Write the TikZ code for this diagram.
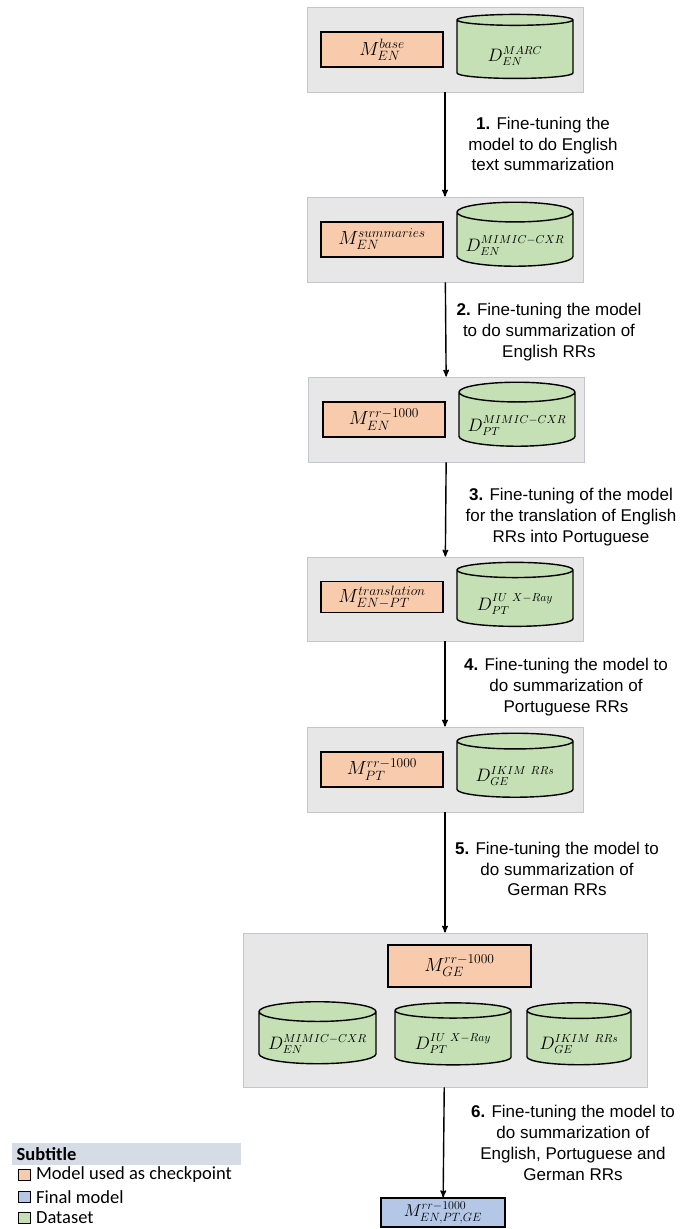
\RequirePackage{fix-cm}
\documentclass[tikz,border=0pt]{standalone}
\usepackage{amsmath}
\usepackage[no-math]{fontspec}
\setmainfont{Liberation Sans}
\newfontfamily\legendfont{Carlito}
\usetikzlibrary{backgrounds,arrows,positioning,shapes.geometric}
\definecolor{xgray}{RGB}{231,231,231}
\definecolor{xedge}{RGB}{196,198,206}
\definecolor{xorange}{RGB}{248,203,173}
\definecolor{xgreen}{RGB}{197,224,180}
\definecolor{xblue}{RGB}{180,199,231}
\definecolor{xband}{RGB}{214,220,229}
\DeclareMathSizes{19}{19}{13.5}{10}
\DeclareMathSizes{18}{18}{11.5}{9}
\DeclareMathSizes{17}{17}{12}{9}

\begin{document}
\begin{tikzpicture}[->,>=stealth',x=1pt,y=-1pt,line width=1.4pt]
\tikzset{stage/.style={rectangle,fill=xgray,draw=xedge,line width=0.8pt,minimum width=276pt,minimum height=85pt,inner sep=0pt}}
\tikzset{ckpt/.style={rectangle,fill=xorange,draw=black,minimum width=122pt,minimum height=35pt,inner sep=0pt,font=\fontsize{19}{19}\selectfont}}
\tikzset{data/.style={cylinder,shape border rotate=90,aspect=0.2,fill=xgreen,draw=black,minimum width=116pt,minimum height=64pt,inner sep=0pt,text height=26pt,text depth=3pt,font=\fontsize{18}{18}\selectfont}}
\tikzset{final/.style={rectangle,fill=xblue,draw=black,minimum width=124pt,minimum height=29pt,inner sep=0pt,font=\fontsize{17}{17}\selectfont}}
\tikzset{steplabel/.style={align=center,font=\fontsize{17}{20.8}\selectfont}}
\tikzset{key/.style={rectangle,draw=black,line width=0.9pt,minimum width=12pt,minimum height=11pt,inner sep=0pt}}
\tikzset{keytext/.style={right=5pt,inner sep=0pt,font=\legendfont\fontsize{18.5}{18.5}\selectfont}}
\useasboundingbox (0,0) rectangle (694,1229);
% stage 1
\node[stage] at (445,49.5) (st1) {};
\node[ckpt] at (382,49.5) (m1) {$M^{base}_{EN}$};
\node[data] at (515,49.5) (d1) {$D^{MARC}_{EN}$};
% stage 2
\node[stage] at (445,239.5) (st2) {};
\node[ckpt] at (382,239.5) (m2) {$M^{summaries}_{EN}$};
\node[data] at (515,239.5) (d2) {$D^{MIMIC-CXR}_{EN}$};
% stage 3
\node[stage] at (446.5,419.5) (st3) {};
\node[ckpt] at (384,419.5) (m3) {$M^{rr-1000}_{EN}$};
\node[data] at (517,419.5) (d3) {$D^{MIMIC-CXR}_{PT}$};
% stage 4
\node[stage,minimum height=84pt] at (445,599) (st4) {};
\node[ckpt,minimum height=31pt] at (382,597) (m4) {$M^{translation}_{EN-PT}$};
\node[data] at (515,598.5) (d4) {$D^{IU\ X-Ray}_{PT}$};
% stage 5
\node[stage] at (445,769.5) (st5) {};
\node[ckpt] at (382,769.5) (m5) {$M^{rr-1000}_{PT}$};
\node[data] at (515,769.5) (d5) {$D^{IKIM\ RRs}_{GE}$};
% stage 6
\node[stage,minimum width=404pt,minimum height=154pt] at (445,1010) (st6) {};
\node[ckpt,minimum width=143pt,minimum height=42pt] at (459.5,966) (m6) {$M^{rr-1000}_{GE}$};
\node[data,minimum width=117pt,minimum height=62pt] at (317.5,1038) (d61) {$D^{MIMIC-CXR}_{EN}$};
\node[data,minimum height=62pt] at (453,1038) (d62) {$D^{IU\ X-Ray}_{PT}$};
\node[data,minimum width=104pt,minimum height=62pt] at (579,1038) (d63) {$D^{IKIM\ RRs}_{GE}$};
% final model
\node[final] at (443,1212.5) (fin) {$M^{rr-1000}_{EN,PT,GE}$};
% steps
\draw (st1) -- (st2);
\draw (st2) -- (st3);
\draw (st3) -- (st4);
\draw (st4) -- (st5);
\draw (st5) -- (st6);
\draw (st6) -- (fin);
\node[steplabel] at (543,144) (lab1) {\textbf{1.} Fine-tuning the\\model to do English\\text summarization};
\node[steplabel] at (549,332) (lab2) {\textbf{2.} Fine-tuning the model\\to do summarization of\\English RRs};
\node[steplabel] at (571,517) (lab3) {\textbf{3.} Fine-tuning of the model\\for the translation of English\\RRs into Portuguese};
\node[steplabel] at (566,687) (lab4) {\textbf{4.} Fine-tuning the model to\\do summarization of\\Portuguese RRs};
\node[steplabel] at (557,869) (lab5) {\textbf{5.} Fine-tuning the model to\\do summarization of\\German RRs};
\node[steplabel] at (573,1143) (lab6) {\textbf{6.} Fine-tuning the model to\\do summarization of\\English, Portuguese and\\German RRs};
% legend
\node[rectangle,fill=xband,anchor=west,minimum width=229pt,minimum height=22pt,text width=219pt,inner xsep=5pt,align=left,font=\legendfont\bfseries\fontsize{18.5}{18.5}\selectfont] at (11,1154) (sub) {Subtitle};
\node[key,fill=xorange] at (24,1175) (k1) {};
\node[keytext] at (k1.east) (t1) {Model used as checkpoint};
\node[key,fill=xblue] at (24,1197) (k2) {};
\node[keytext] at (k2.east) (t2) {Final model};
\node[key,fill=xgreen] at (24,1218) (k3) {};
\node[keytext] at (k3.east) (t3) {Dataset};
\end{tikzpicture}
\end{document}
